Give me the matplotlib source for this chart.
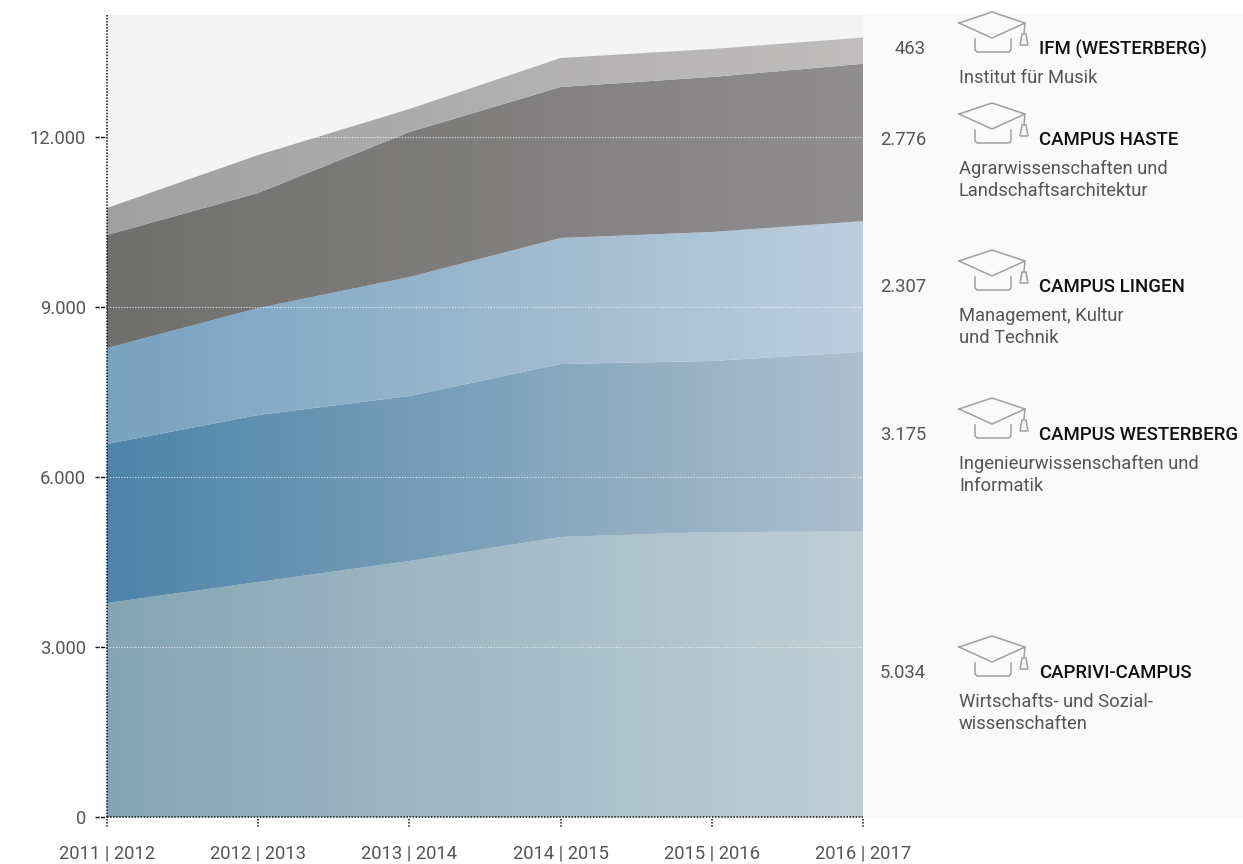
"""Stacked student numbers per campus, with a horizontal fade on each band."""

import matplotlib
matplotlib.use("Agg")
import matplotlib.pyplot as plt
import numpy as np
from matplotlib.colors import LinearSegmentedColormap
from matplotlib.patches import Polygon
from matplotlib.transforms import blended_transform_factory

plt.rcParams["font.family"] = ["Roboto", "DejaVu Sans"]

semesters = ["2011 | 2012", "2012 | 2013", "2013 | 2014",
             "2014 | 2015", "2015 | 2016", "2016 | 2017"]
y_ticks = [0, 3000, 6000, 9000, 12000]
y_tick_labels = ["0", "3.000", "6.000", "9.000", "12.000"]

# students per campus, bottom to top
caprivi = [3776, 4147, 4518, 4941, 5029, 5034]
westerberg = [2806, 2947, 2911, 3053, 3018, 3175]
lingen = [1694, 1888, 2100, 2224, 2277, 2307]
haste = [1994, 2030, 2559, 2664, 2735, 2776]
ifm = [477, 670, 406, 512, 494, 463]

layers = [caprivi, westerberg, lingen, haste, ifm]
layer_colors = [("#85a5b3", "#c1d0d8"), ("#4d84a9", "#aebfcd"), ("#78a2bf", "#bdcede"),
                ("#6f6f6d", "#908e8e"), ("#a0a0a0", "#c0bdbd")]

campus_names = ["IFM (WESTERBERG)", "CAMPUS HASTE", "CAMPUS LINGEN", "CAMPUS WESTERBERG", "CAPRIVI-CAMPUS"]
campus_values = ["463", "2.776", "2.307", "3.175", "5.034"]
campus_notes = ["Institut für Musik",
                "Agrarwissenschaften und\nLandschaftsarchitektur",
                "Management, Kultur\nund Technik",
                "Ingenieurwissenschaften und\nInformatik",
                "Wirtschafts- und Sozial-\nwissenschaften"]
campus_rows = [48, 139, 286, 434, 672]  # pixel y of each legend headline

W, H = 1243, 864
TEXT = "#555555"
FS = 13.2
DOTS = (0, (1, 1))

fig = plt.figure(figsize=(W / 100, H / 100), dpi=100, facecolor="white")

# right side panel behind the legend
bg = fig.add_axes([863 / W, 1 - 817 / H, 380 / W, 802 / H], zorder=0)
bg.set_facecolor("#fafafa")
bg.set_xticks([])
bg.set_yticks([])
for s in bg.spines.values():
    s.set_visible(False)

ax = fig.add_axes([107 / W, 1 - 817 / H, 756 / W, 802 / H], zorder=1)
ax.set_facecolor("#f4f4f4")
ymax = 802 / 170 * 3000

x = np.arange(len(semesters))
base = np.zeros(len(semesters))
for vals, (c0, c1) in zip(layers, layer_colors):
    top = base + np.array(vals)
    poly = Polygon(np.column_stack([np.r_[x, x[::-1]], np.r_[top, base[::-1]]]),
                   closed=True, transform=ax.transData, fc="none", ec="none")
    ax.add_patch(poly)
    cmap = LinearSegmentedColormap.from_list("fade", [c0, c1])
    im = ax.imshow(np.linspace(0, 1, 256).reshape(1, -1), cmap=cmap, aspect="auto",
                   extent=(0, 5, 0, ymax), interpolation="bilinear", zorder=2)
    im.set_clip_path(poly)
    base = top
ax.set_xlim(0, 5)
ax.set_ylim(0, ymax)

for t in y_ticks[1:]:
    ax.axhline(t, color="white", lw=0.8, ls=(0, (1, 1.5)), alpha=0.8, zorder=3)

for side in ("top", "right"):
    ax.spines[side].set_visible(False)
for side in ("left", "bottom"):
    ax.spines[side].set_linewidth(1.1)
    ax.spines[side].set_linestyle(DOTS)
    ax.spines[side].set_capstyle("butt")
    ax.spines[side].set_color("#111111")
    ax.spines[side].set_zorder(4)

ax.set_xticks(x)
ax.set_xticklabels(semesters, fontsize=FS, color=TEXT)
ax.set_yticks(y_ticks)
ax.set_yticklabels(y_tick_labels, fontsize=FS, color=TEXT)
ax.tick_params(axis="x", length=0, pad=19.5)
ax.tick_params(axis="y", length=0, pad=15)

# dotted ticks drawn by hand, tick markers ignore the dash pattern
x_trans = blended_transform_factory(ax.transData, ax.transAxes)
y_trans = blended_transform_factory(ax.transAxes, ax.transData)
for v in x:
    ax.plot([v, v], [-2 / 802, -11 / 802], transform=x_trans, color="#111111", lw=1.1,
            ls=DOTS, dash_capstyle="butt", clip_on=False, zorder=5)
for t in y_ticks:
    ax.plot([-12 / 756, 0], [t, t], transform=y_trans, color="#111111", lw=1.0,
            ls=(0, (3, 1)), dash_capstyle="butt", clip_on=False, zorder=5)

# overlay in pixel coordinates for the legend block
ov = fig.add_axes([0, 0, 1, 1], zorder=5)
ov.set_xlim(0, W)
ov.set_ylim(H, 0)
ov.axis("off")
ov.patch.set_alpha(0)


def draw_cap(row):
    """Mortarboard icon placed relative to the headline row."""
    c = "#a0a0a0"
    x0 = 959
    board = [(0, -25), (33, -36), (66, -25), (33, -10), (0, -25)]
    ov.plot([x0 + p[0] for p in board], [row + p[1] for p in board], color=c, lw=1.1, solid_joinstyle="round")
    ov.plot([x0 + 16, x0 + 16, x0 + 18, x0 + 50, x0 + 52, x0 + 52],
            [row - 9, row + 2, row + 4, row + 4, row + 2, row - 9], color=c, lw=1.1)
    ov.plot([x0 + 66, x0 + 65], [row - 25, row - 15], color=c, lw=1.1)
    ov.add_patch(Polygon([(x0 + 61, row - 3), (x0 + 63, row - 14), (x0 + 67, row - 14), (x0 + 69, row - 3)],
                         closed=True, fc="#f4f4f4", ec=c, lw=1.1))


for name, val, note, row in zip(campus_names, campus_values, campus_notes, campus_rows):
    ov.text(926, row + 1, val, ha="right", va="center", fontsize=FS, color=TEXT)
    ov.text(1039, row + 1, name, ha="left", va="center", fontsize=13.4, fontweight="medium", color="#111111")
    for i, line in enumerate(note.split("\n")):
        ov.text(959, row + 30 + 22 * i, line, ha="left", va="center", fontsize=FS, color=TEXT)
    draw_cap(row)

fig.savefig("out.png", dpi=100)
